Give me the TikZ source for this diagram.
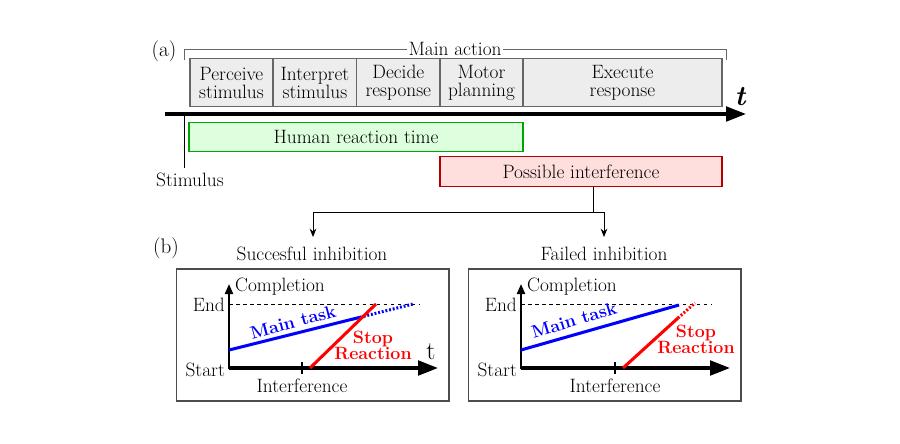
\documentclass[tikz,border=0pt]{standalone}
\usetikzlibrary{arrows.meta}

\begin{document}
\begin{tikzpicture}[x=0.03cm,y=-0.03cm,
  font=\fontsize{16.5}{15.5}\selectfont,
  stage/.style={draw=black!60,fill=black!7,line width=0.9pt,minimum height=1.43cm,inner sep=0pt,align=center},
  bar/.style={line width=0.9pt,minimum height=0.88cm,inner sep=0pt},
  conn/.style={line width=0.7pt,-{Stealth[length=0.25cm,width=0.2cm]}},
  axis/.style={line width=2.8pt,-{Triangle[length=0.6cm,width=0.44cm]}},
  task/.style={blue,line width=2.6pt},
  stop/.style={red,line width=2.6pt},
  dots/.style={dash pattern=on 1.6pt off 1.6pt},
  lbl/.style={font=\fontsize{15.2}{13.6}\selectfont\bfseries}]
\useasboundingbox (0,0) rectangle (900,443);

% (a) time line
\node[font=\fontsize{18}{18}\selectfont] (pa) at (164,51) {(a)};
\draw[black!60,line width=0.8pt] (184.5,60) |- (726,49.5) -- (726,60);
\node[fill=white,inner sep=1pt] (mainact) at (455,49) {Main action};
\node[stage,minimum width=2.49cm] (perceive) at (231.5,82.8) {Perceive\\stimulus};
\node[stage,minimum width=2.51cm] (interpret) at (314.9,82.8) {Interpret\\stimulus};
\node[stage,minimum width=2.50cm] (decide) at (398.3,82.8) {Decide\\response};
\node[stage,minimum width=2.49cm] (motor) at (481.5,82.8) {Motor\\planning};
\node[stage,minimum width=5.97cm] (execute) at (622.5,82.8) {Execute\\response};
\draw[axis] (165,114) -- (746,114);
\node[font=\fontsize{24}{24}\selectfont\bfseries\itshape] (tlab) at (740,97) {t};
\draw[line width=0.9pt] (184.5,114) -- (184.5,168);
\node (stim) at (190,180) {Stimulus};
\node[bar,draw=green!65!black,fill=green!13,minimum width=10.02cm] (hrt) at (356,137.2) {Human reaction time};
\node[bar,draw=red!70!black,fill=red!13,minimum width=8.46cm] (interf) at (581,171.5) {Possible interference};

% split to (b)
\coordinate (split) at (593,212);
\coordinate (succin) at (313,237);
\coordinate (failin) at (604,237);
\draw[line width=0.7pt] (interf.south -| split) -- (split);
\draw[conn] (split) -| (succin);
\draw[conn] (split) -| (failin);
\node[font=\fontsize{18}{18}\selectfont] (pb) at (166,248) {(b)};

% (b) panels
\foreach \dx/\tk/\ttl in {0/302/Succesful inhibition,292/323/Failed inhibition}{
  \begin{scope}[shift={(\dx,0)}]
    \node (title\dx) at (312,254) {\ttl};
    \draw[black!70,line width=0.9pt] (176.7,269) rectangle (449,401);
    \draw[dashed,line width=0.6pt] (229,304.7) -- (419,304.7);
    \draw[line width=1.8pt,-{Triangle[length=0.3cm,width=0.24cm]}] (229,369) -- (229,284);
    \draw[axis] (229,368) -- (438,368);
    \draw[line width=1pt] (\tk,362) -- (\tk,374);
    \node (inter\dx) at (\tk,386) {Interference};
    \node[anchor=west] (compl\dx) at (231,287) {Completion};
    \node[anchor=east] (end\dx) at (229,305) {End};
    \node[anchor=east] (start\dx) at (229,370) {Start};
  \end{scope}
}

% succesful
\draw[task] (229,350) -- (360,317.3);
\draw[task,dots] (360,317.3) -- (413,304);
\draw[stop] (310,368) -- (376,304);
\node[lbl,blue,rotate=15] (task1) at (293,322) {Main task};
\node[lbl,red,align=center] (stop1) at (373,345) {Stop\\Reaction};
\node[font=\fontsize{22}{22}\selectfont] (tp) at (431,352) {t};

% failed
\draw[task] (521,350) -- (679,305);
\draw[stop] (623,368) -- (678,318);
\draw[stop,dots] (678,318) -- (695,303);
\node[lbl,blue,rotate=17] (task2) at (574,320) {Main task};
\node[lbl,red,align=center] (stop2) at (696,339) {Stop\\Reaction};
\end{tikzpicture}
\end{document}
